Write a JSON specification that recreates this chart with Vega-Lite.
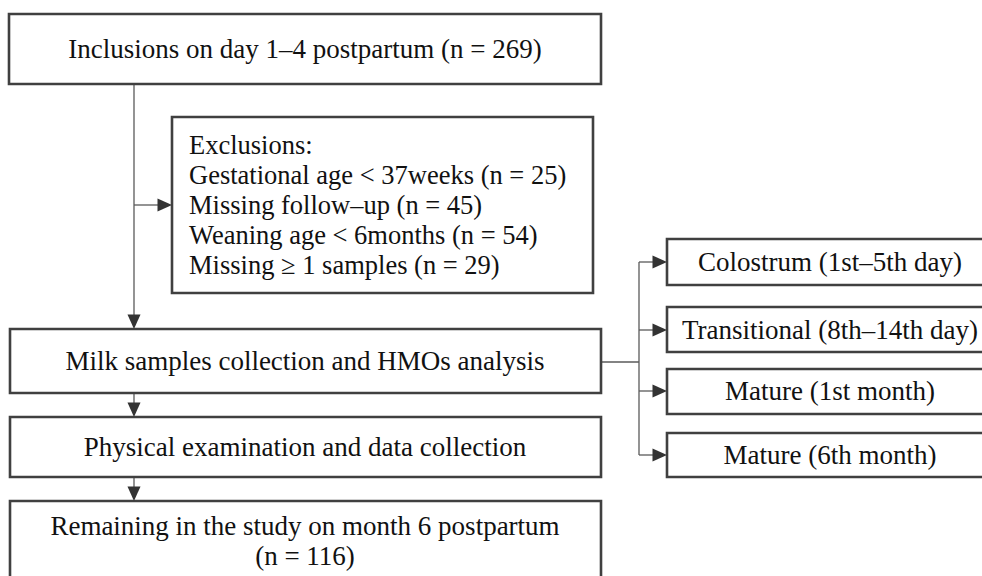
{
  "$schema": "https://vega.github.io/schema/vega-lite/v6.json",
  "width": 982,
  "height": 576,
  "autosize": {"type": "fit", "contains": "padding"},
  "padding": 0,
  "background": "white",
  "config": {"view": {"stroke": null}},
  "datasets": {
    "boxes": [
      {"id": "b1", "x": 9, "x2": 601, "y": 14, "y2": 84},
      {"id": "excl", "x": 172, "x2": 593, "y": 117, "y2": 293},
      {"id": "milk", "x": 10, "x2": 601, "y": 329, "y2": 393},
      {"id": "phys", "x": 10, "x2": 601, "y": 417, "y2": 477},
      {"id": "rem", "x": 10, "x2": 601, "y": 501, "y2": 610},
      {"id": "col", "x": 667, "x2": 1000, "y": 239, "y2": 285},
      {"id": "tra", "x": 667, "x2": 1000, "y": 307, "y2": 352},
      {"id": "m1", "x": 667, "x2": 1000, "y": 369, "y2": 414},
      {"id": "m6", "x": 667, "x2": 1000, "y": 433, "y2": 477}
    ],
    "lines": [
      {"x": 134, "y": 84, "x2": 134, "y2": 320},
      {"x": 134, "y": 205, "x2": 162, "y2": 205},
      {"x": 134, "y": 393, "x2": 134, "y2": 408},
      {"x": 134, "y": 477, "x2": 134, "y2": 492},
      {"x": 601, "y": 362, "x2": 639, "y2": 362},
      {"x": 639, "y": 262, "x2": 639, "y2": 455},
      {"x": 639, "y": 262, "x2": 657, "y2": 262},
      {"x": 639, "y": 330, "x2": 657, "y2": 330},
      {"x": 639, "y": 391, "x2": 657, "y2": 391},
      {"x": 639, "y": 455, "x2": 657, "y2": 455}
    ],
    "arrows": [
      {"x": 134, "y": 329, "dir": "down"},
      {"x": 134, "y": 417, "dir": "down"},
      {"x": 134, "y": 501, "dir": "down"},
      {"x": 172, "y": 205, "dir": "right"},
      {"x": 667, "y": 262, "dir": "right"},
      {"x": 667, "y": 330, "dir": "right"},
      {"x": 667, "y": 391, "dir": "right"},
      {"x": 667, "y": 455, "dir": "right"}
    ],
    "centered": [
      {"x": 305, "y": 58, "t": "Inclusions on day 1–4 postpartum (n = 269)"},
      {"x": 305, "y": 370, "t": "Milk samples collection and HMOs analysis"},
      {"x": 305, "y": 456, "t": "Physical examination and  data collection"},
      {"x": 305, "y": 535, "t": "Remaining in the study on month 6 postpartum"},
      {"x": 305, "y": 565, "t": "(n = 116)"},
      {"x": 830, "y": 271, "t": "Colostrum (1st–5th day)"},
      {"x": 830, "y": 339, "t": "Transitional (8th–14th day)"},
      {"x": 830, "y": 400, "t": "Mature (1st month)"},
      {"x": 830, "y": 464, "t": "Mature (6th month)"}
    ],
    "lefttext": [
      {"x": 189, "y": 154, "t": "Exclusions:"},
      {"x": 189, "y": 184, "t": "Gestational age < 37weeks (n = 25)"},
      {"x": 189, "y": 214, "t": "Missing follow–up (n = 45)"},
      {"x": 189, "y": 244, "t": "Weaning age < 6months (n = 54)"},
      {"x": 189, "y": 274, "t": "Missing ≥ 1 samples (n = 29)"}
    ]
  },
  "layer": [
    {
      "data": {"name": "lines"},
      "mark": {"type": "rule", "color": "#5a5a5a", "strokeWidth": 1.3},
      "encoding": {
        "x": {"field": "x", "type": "quantitative", "scale": {"domain": [0, 982], "nice": false, "zero": false}, "axis": null},
        "y": {"field": "y", "type": "quantitative", "scale": {"domain": [0, 576], "nice": false, "zero": false, "reverse": true}, "axis": null},
        "x2": {"field": "x2"},
        "y2": {"field": "y2"}
      }
    },
    {
      "data": {"name": "boxes"},
      "mark": {"type": "rect", "fill": "white", "stroke": "#404040", "strokeWidth": 2.6, "clip": true},
      "encoding": {
        "x": {"field": "x", "type": "quantitative"},
        "y": {"field": "y", "type": "quantitative"},
        "x2": {"field": "x2"},
        "y2": {"field": "y2"}
      }
    },
    {
      "data": {"name": "arrows"},
      "transform": [{"filter": "datum.dir === 'right'"}],
      "mark": {"type": "point", "shape": "M-2,-0.9L0,0L-2,0.9Z", "size": 210, "filled": true, "color": "#333333", "opacity": 1, "strokeWidth": 0},
      "encoding": {
        "x": {"field": "x", "type": "quantitative"},
        "y": {"field": "y", "type": "quantitative"}
      }
    },
    {
      "data": {"name": "arrows"},
      "transform": [{"filter": "datum.dir === 'down'"}],
      "mark": {"type": "point", "shape": "M-0.9,-2L0,0L0.9,-2Z", "size": 210, "filled": true, "color": "#333333", "opacity": 1, "strokeWidth": 0},
      "encoding": {
        "x": {"field": "x", "type": "quantitative"},
        "y": {"field": "y", "type": "quantitative"}
      }
    },
    {
      "data": {"name": "centered"},
      "mark": {"type": "text", "font": "Liberation Serif", "fontSize": 27, "align": "center", "baseline": "alphabetic", "color": "#111111"},
      "encoding": {
        "x": {"field": "x", "type": "quantitative"},
        "y": {"field": "y", "type": "quantitative"},
        "text": {"field": "t"}
      }
    },
    {
      "data": {"name": "lefttext"},
      "mark": {"type": "text", "font": "Liberation Serif", "fontSize": 26.5, "align": "left", "baseline": "alphabetic", "color": "#111111"},
      "encoding": {
        "x": {"field": "x", "type": "quantitative"},
        "y": {"field": "y", "type": "quantitative"},
        "text": {"field": "t"}
      }
    }
  ]
}
